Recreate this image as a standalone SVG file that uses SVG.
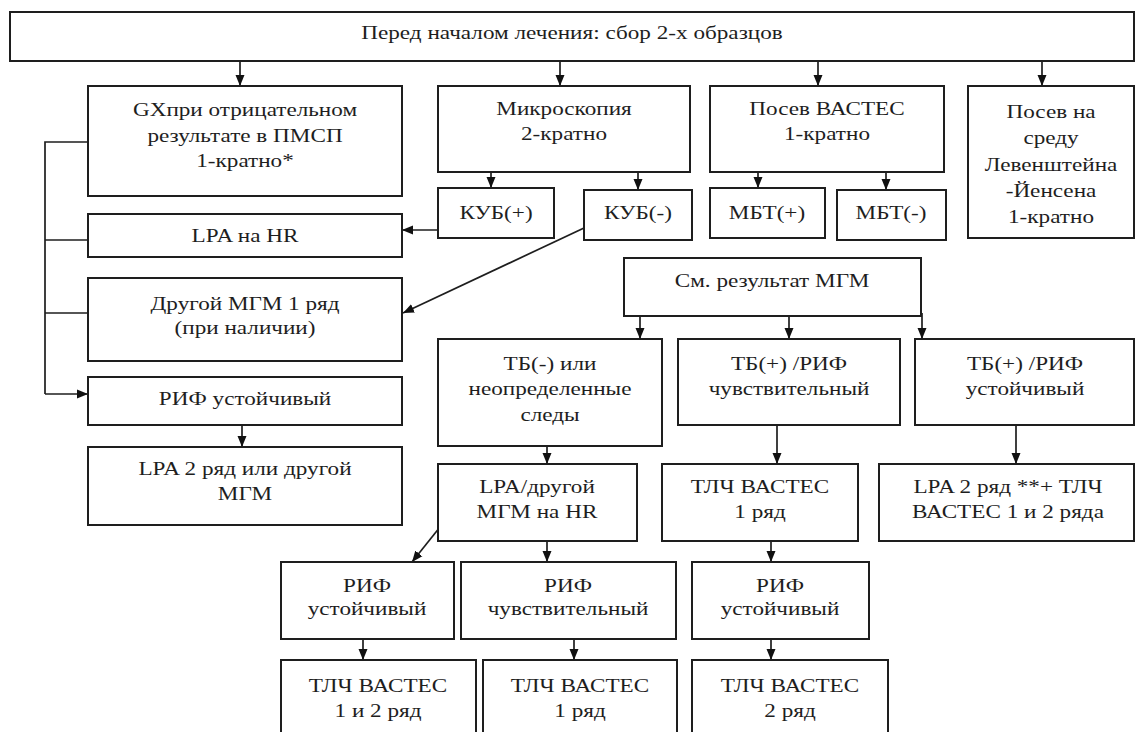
<svg xmlns="http://www.w3.org/2000/svg" width="1137" height="732" viewBox="0 0 1137 732" font-family="'Liberation Serif', 'Times New Roman', serif" font-size="19">
<style>
rect.b{fill:#fff;stroke:#1e1e1e;stroke-width:2}
text{fill:#1e1e1e;text-anchor:middle}
.c line,.c polyline{stroke:#1e1e1e;stroke-width:1.7;fill:none}
.c .a{marker-end:url(#ah)}
</style>
<defs>
<marker id="ah" markerUnits="userSpaceOnUse" markerWidth="12" markerHeight="12" viewBox="0 0 12 12" refX="11" refY="6" orient="auto">
<path d="M0,1.5 L11,6 L0,10.5 Z" fill="#111"/>
</marker>
</defs>
<rect width="1137" height="732" fill="#fff"/>
<g class="c" id="connectors">
<line class="a" x1="240" y1="61" x2="240" y2="86"/>
<line class="a" x1="560" y1="61" x2="560" y2="86"/>
<line class="a" x1="818" y1="61" x2="818" y2="86"/>
<line class="a" x1="1042" y1="61" x2="1042" y2="86"/>
<line class="a" x1="491" y1="172" x2="491" y2="188"/>
<line class="a" x1="638" y1="172" x2="638" y2="190"/>
<line class="a" x1="758" y1="172" x2="758" y2="188"/>
<line class="a" x1="886" y1="172" x2="886" y2="190"/>
<line class="a" x1="438" y1="230" x2="402" y2="230"/>
<line class="a" x1="584" y1="228" x2="403" y2="313"/>
<polyline points="88,142 45,142 45,394"/>
<line x1="45" y1="240" x2="88" y2="240"/>
<line x1="45" y1="313" x2="88" y2="313"/>
<line class="a" x1="45" y1="394" x2="88" y2="394"/>
<line class="a" x1="242" y1="425" x2="242" y2="447"/>
<line class="a" x1="640" y1="313" x2="640" y2="339"/>
<line class="a" x1="789" y1="313" x2="789" y2="339"/>
<line class="a" x1="922" y1="313" x2="922" y2="339"/>
<line class="a" x1="547" y1="446" x2="547" y2="464"/>
<line class="a" x1="777" y1="425" x2="777" y2="464"/>
<line class="a" x1="1016" y1="425" x2="1016" y2="464"/>
<line class="a" x1="440" y1="527" x2="412" y2="562"/>
<line class="a" x1="547" y1="541" x2="547" y2="562"/>
<line class="a" x1="771" y1="541" x2="771" y2="562"/>
<line class="a" x1="363" y1="639" x2="363" y2="660"/>
<line class="a" x1="574" y1="639" x2="574" y2="660"/>
<line class="a" x1="771" y1="639" x2="771" y2="660"/>
</g>
<g id="top"><rect class="b" x="10" y="12" width="1124" height="49"/>
<text transform="translate(572,39) scale(1.22,1)">Перед началом лечения: сбор 2-х образцов</text></g>
<g id="gx"><rect class="b" x="88" y="86" width="314" height="110"/>
<text transform="translate(245,116) scale(1.22,1)">GXпри отрицательном</text>
<text transform="translate(245,142) scale(1.22,1)">результате в ПМСП</text>
<text transform="translate(245,167) scale(1.22,1)">1-кратно*</text></g>
<g id="micro"><rect class="b" x="438" y="86" width="252" height="86"/>
<text transform="translate(564,115) scale(1.22,1)">Микроскопия</text>
<text transform="translate(564,140) scale(1.22,1)">2-кратно</text></g>
<g id="posev"><rect class="b" x="710" y="86" width="234" height="86"/>
<text transform="translate(827,115) scale(1.22,1)">Посев ВАСТЕС</text>
<text transform="translate(827,140) scale(1.22,1)">1-кратно</text></g>
<g id="leven"><rect class="b" x="968" y="86" width="166" height="152"/>
<text transform="translate(1051,118) scale(1.22,1)">Посев на</text>
<text transform="translate(1051,144) scale(1.22,1)">среду</text>
<text transform="translate(1051,171) scale(1.22,1)">Левенштейна</text>
<text transform="translate(1051,197) scale(1.22,1)">-Йенсена</text>
<text transform="translate(1051,223) scale(1.22,1)">1-кратно</text></g>
<g id="kubp"><rect class="b" x="438" y="188" width="116" height="50"/>
<text transform="translate(496,219) scale(1.22,1)">КУБ(+)</text></g>
<g id="kubm"><rect class="b" x="584" y="190" width="108" height="50"/>
<text transform="translate(638,219) scale(1.22,1)">КУБ(-)</text></g>
<g id="mbtp"><rect class="b" x="710" y="188" width="115" height="50"/>
<text transform="translate(767,219) scale(1.22,1)">МБТ(+)</text></g>
<g id="mbtm"><rect class="b" x="837" y="190" width="109" height="50"/>
<text transform="translate(891,219) scale(1.22,1)">МБТ(-)</text></g>
<g id="lpahr"><rect class="b" x="88" y="214" width="314" height="43"/>
<text transform="translate(245,242) scale(1.22,1)">LPA на HR</text></g>
<g id="drugoy"><rect class="b" x="88" y="278" width="314" height="83"/>
<text transform="translate(245,310) scale(1.22,1)">Другой МГМ 1 ряд</text>
<text transform="translate(245,334) scale(1.22,1)">(при наличии)</text></g>
<g id="rifu1"><rect class="b" x="88" y="377" width="314" height="48"/>
<text transform="translate(245,405) scale(1.22,1)">РИФ устойчивый</text></g>
<g id="lpa2"><rect class="b" x="88" y="447" width="314" height="78"/>
<text transform="translate(245,475) scale(1.22,1)">LPA 2 ряд или другой</text>
<text transform="translate(245,500) scale(1.22,1)">МГМ</text></g>
<g id="smres"><rect class="b" x="624" y="258" width="297" height="58"/>
<text transform="translate(772,287) scale(1.22,1)">См. результат МГМ</text></g>
<g id="tbm"><rect class="b" x="438" y="339" width="224" height="107"/>
<text transform="translate(550,370) scale(1.22,1)">ТБ(-) или</text>
<text transform="translate(550,395) scale(1.22,1)">неопределенные</text>
<text transform="translate(550,421) scale(1.22,1)">следы</text></g>
<g id="tbps"><rect class="b" x="678" y="339" width="222" height="86"/>
<text transform="translate(789,370) scale(1.22,1)">ТБ(+) /РИФ</text>
<text transform="translate(789,395) scale(1.22,1)">чувствительный</text></g>
<g id="tbpr"><rect class="b" x="915" y="339" width="219" height="86"/>
<text transform="translate(1025,370) scale(1.22,1)">ТБ(+) /РИФ</text>
<text transform="translate(1025,395) scale(1.22,1)">устойчивый</text></g>
<g id="lpadr"><rect class="b" x="438" y="464" width="199" height="77"/>
<text transform="translate(537,493) scale(1.22,1)">LPA/другой</text>
<text transform="translate(537,518) scale(1.22,1)">МГМ на HR</text></g>
<g id="tlc1a"><rect class="b" x="662" y="464" width="196" height="77"/>
<text transform="translate(760,493) scale(1.22,1)">ТЛЧ ВАСТЕС</text>
<text transform="translate(760,518) scale(1.22,1)">1 ряд</text></g>
<g id="lpa2tlc"><rect class="b" x="879" y="464" width="255" height="77"/>
<text transform="translate(1008,493) scale(1.22,1)">LPA 2 ряд **+ ТЛЧ</text>
<text transform="translate(1008,518) scale(1.22,1)">ВАСТЕС 1 и 2 ряда</text></g>
<g id="rifu2"><rect class="b" x="281" y="562" width="173" height="77"/>
<text transform="translate(367,592) scale(1.22,1)">РИФ</text>
<text transform="translate(367,615) scale(1.22,1)">устойчивый</text></g>
<g id="rifs"><rect class="b" x="461" y="562" width="215" height="77"/>
<text transform="translate(568,592) scale(1.22,1)">РИФ</text>
<text transform="translate(568,615) scale(1.22,1)">чувствительный</text></g>
<g id="rifu3"><rect class="b" x="692" y="562" width="177" height="77"/>
<text transform="translate(780,592) scale(1.22,1)">РИФ</text>
<text transform="translate(780,615) scale(1.22,1)">устойчивый</text></g>
<g id="tlc12"><rect class="b" x="281" y="660" width="195" height="90"/>
<text transform="translate(378,692) scale(1.22,1)">ТЛЧ ВАСТЕС</text>
<text transform="translate(378,717) scale(1.22,1)">1 и 2 ряд</text></g>
<g id="tlc1b"><rect class="b" x="483" y="660" width="194" height="90"/>
<text transform="translate(580,692) scale(1.22,1)">ТЛЧ ВАСТЕС</text>
<text transform="translate(580,717) scale(1.22,1)">1 ряд</text></g>
<g id="tlc2"><rect class="b" x="692" y="660" width="196" height="90"/>
<text transform="translate(790,692) scale(1.22,1)">ТЛЧ ВАСТЕС</text>
<text transform="translate(790,717) scale(1.22,1)">2 ряд</text></g>
</svg>
